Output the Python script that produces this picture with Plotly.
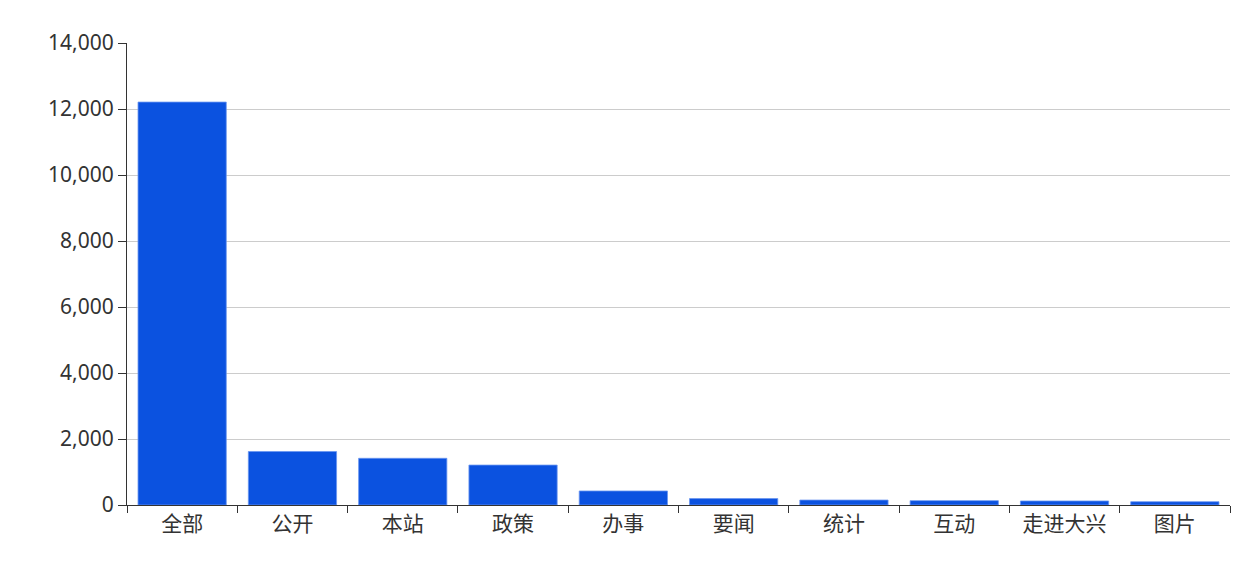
import plotly.graph_objects as go

categories = ["全部", "公开", "本站", "政策", "办事", "要闻", "统计", "互动", "走进大兴", "图片"]
counts = [12210, 1620, 1415, 1210, 425, 195, 150, 132, 122, 100]
y_ticks = [0, 2000, 4000, 6000, 8000, 10000, 12000, 14000]

fig = go.Figure()
fig.add_trace(go.Bar(
    x=categories, y=counts,
    marker=dict(color="#0b52e0", line=dict(color="#6a95f0", width=0.8)),
    width=0.8,
))

# the page puts the figure 8px in from the corner, so margins are shifted
fig.update_layout(
    width=1260, height=561,
    margin=dict(l=119, r=38, t=35, b=64),
    plot_bgcolor="white", paper_bgcolor="white",
    showlegend=False,
    font=dict(family="Noto Sans, Noto Sans CJK SC", size=21, color="#333"),
    bargap=0.2,
)
fig.update_xaxes(
    showline=True, linecolor="#333", linewidth=1.2,
    ticks="outside", tickson="boundaries", ticklen=7, tickcolor="#333",
    showgrid=False,
)
fig.update_yaxes(
    range=[0, 14000], tickvals=y_ticks, tickformat=",",
    showline=True, linecolor="#333", linewidth=1.2,
    ticks="outside", ticklen=8, tickcolor="#333",
    showgrid=True, gridcolor="#cccccc", gridwidth=1,
    zeroline=False,
)

fig.write_html("out.html")
